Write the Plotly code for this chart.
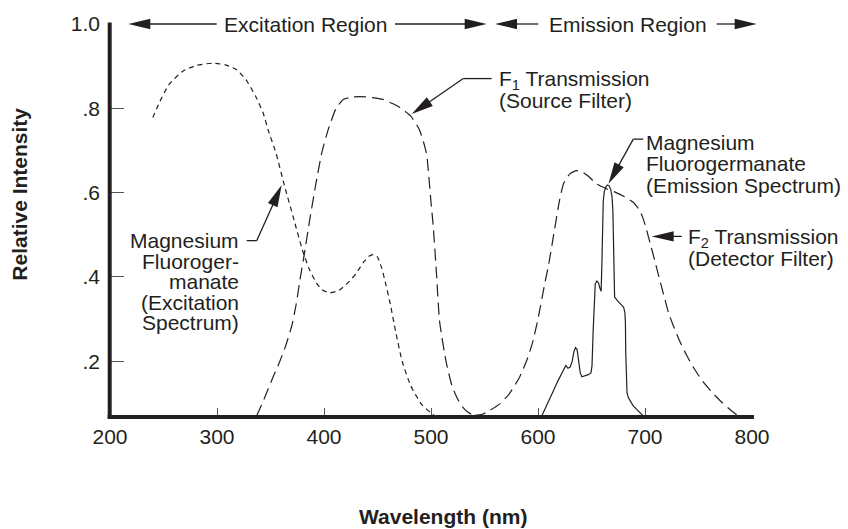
import math
import plotly.graph_objects as go

# ---------------- data ----------------
# Magnesium fluorogermanate excitation spectrum (short dashes)
ex_wl = [240, 246, 255, 268, 281, 296, 308, 318, 327, 336, 343, 348, 355, 363, 372,
         380, 386, 393, 398, 405, 414, 422, 430, 437, 442, 446, 450, 454, 458, 462,
         467, 473, 481, 491, 500, 505]
ex_int = [0.778, 0.813, 0.856, 0.888, 0.902, 0.907, 0.903, 0.892, 0.868, 0.829, 0.790,
          0.747, 0.695, 0.617, 0.535, 0.462, 0.420, 0.385, 0.370, 0.362, 0.368, 0.385,
          0.408, 0.435, 0.449, 0.453, 0.447, 0.420, 0.380, 0.335, 0.270, 0.200, 0.142,
          0.098, 0.077, 0.068]

# F1 transmission (source filter, long dashes)
f1_wl = [337, 344, 352, 358, 364, 370, 374, 378, 382, 386, 392, 398, 404, 411, 418,
         427, 439, 455, 465, 471, 481, 489, 493, 496, 498, 500, 502, 505, 508, 514,
         520, 526, 530, 535, 540]
f1_int = [0.070, 0.110, 0.160, 0.195, 0.235, 0.285, 0.335, 0.400, 0.460, 0.525, 0.615,
          0.695, 0.750, 0.798, 0.821, 0.827, 0.827, 0.821, 0.810, 0.802, 0.782, 0.750,
          0.720, 0.690, 0.637, 0.577, 0.523, 0.413, 0.295, 0.200, 0.138, 0.105, 0.090,
          0.078, 0.071]

# F2 transmission (detector filter, long dashes)
f2_wl = [540, 548, 555, 564, 573, 583, 590, 595, 600, 606, 610, 614, 620, 624, 630,
         636, 642, 648, 655, 665, 673, 681, 689, 695, 698, 701, 705, 709, 713, 717,
         722, 726, 732, 738.5, 746, 754, 763, 772, 780, 787]
f2_int = [0.071, 0.074, 0.083, 0.098, 0.122, 0.163, 0.205, 0.245, 0.300, 0.380, 0.430,
          0.490, 0.580, 0.622, 0.645, 0.652, 0.648, 0.637, 0.620, 0.608, 0.600, 0.590,
          0.577, 0.558, 0.540, 0.516, 0.478, 0.440, 0.400, 0.362, 0.315, 0.287, 0.250,
          0.216, 0.182, 0.152, 0.125, 0.102, 0.084, 0.070]

# Magnesium fluorogermanate emission spectrum (solid)
em_wl = [603, 607, 611, 615, 619, 623, 626, 628, 630, 632, 633.5, 635, 636.5, 638,
         639.5, 641, 644, 647, 649.5, 650.5, 651.5, 652.5, 653.5, 655, 656.5, 658, 659,
         659.7, 660.3, 661, 662, 663.5, 665, 666.5, 668, 669.2, 670, 670.6, 671.1,
         671.6, 674, 677, 680, 681.2, 681.7, 682, 682.4, 683.2, 684.5, 686.5, 689, 692,
         695.5, 699.5]
em_int = [0.067, 0.090, 0.113, 0.135, 0.155, 0.175, 0.190, 0.183, 0.186, 0.200, 0.222,
          0.232, 0.228, 0.200, 0.172, 0.163, 0.165, 0.168, 0.172, 0.190, 0.270, 0.350,
          0.383, 0.390, 0.386, 0.372, 0.366, 0.430, 0.520, 0.580, 0.603, 0.614, 0.618,
          0.616, 0.607, 0.590, 0.555, 0.460, 0.380, 0.352, 0.344, 0.337, 0.328, 0.316,
          0.290, 0.220, 0.150, 0.125, 0.113, 0.103, 0.094, 0.086, 0.077, 0.067]

x_tickvals = [200, 300, 400, 500, 600, 700, 800]
x_ticktext = ["200", "300", "400", "500", "600", "700", "800"]
y_tickvals = [0.2, 0.4, 0.6, 0.8, 1.0]
y_ticktext = [".2", ".4", ".6", ".8", "1.0"]

# ---------------- layout helpers ----------------
W, H = 848, 529
ML, MR, MT, MB = 110, 96, 21, 112
PW, PH = W - ML - MR, H - MT - MB
INK = "#231f20"
FONT = "Liberation Sans, Arial, Helvetica, sans-serif"
FS = 21


def px(x):
    return (x - ML) / PW


def py(y):
    return (H - MB - y) / PH


shapes = []
annotations = []


def seg(x0, y0, x1, y1, w=1.3):
    shapes.append(dict(type="line", xref="paper", yref="paper",
                       x0=px(x0), y0=py(y0), x1=px(x1), y1=py(y1),
                       line=dict(color=INK, width=w)))


def arrow(tail, tip, hl=22, hw=10.5, w=1.3):
    (tx, ty), (hx, hy) = tail, tip
    d = math.hypot(hx - tx, hy - ty)
    ux, uy = (hx - tx) / d, (hy - ty) / d
    bx, by = hx - ux * hl, hy - uy * hl
    nx, ny = -uy, ux
    seg(tx, ty, bx + ux * 2, by + uy * 2, w)
    p1 = (bx + nx * hw / 2, by + ny * hw / 2)
    p2 = (bx - nx * hw / 2, by - ny * hw / 2)
    path = "M{},{} L{},{} L{},{} Z".format(px(hx), py(hy), px(p1[0]), py(p1[1]),
                                           px(p2[0]), py(p2[1]))
    shapes.append(dict(type="path", xref="paper", yref="paper", path=path,
                       fillcolor=INK, line=dict(width=0)))


def label(text, x, y, xanchor="left", size=FS, angle=0):
    annotations.append(dict(text=text, xref="paper", yref="paper", x=px(x), y=py(y),
                            xanchor=xanchor, yanchor="middle", showarrow=False,
                            textangle=angle, borderpad=0,
                            font=dict(size=size, color=INK, family=FONT)))


# axis lines
shapes.append(dict(type="line", xref="paper", yref="paper", x0=px(109.7), x1=px(109.7),
                   y0=py(419), y1=py(19.5), line=dict(color=INK, width=4)))
shapes.append(dict(type="line", xref="paper", yref="paper", x0=px(107.7), x1=px(754),
                   y0=py(417), y1=py(417), line=dict(color=INK, width=4)))

# region arrows along the top
arrow((216.7, 21), (128.3, 21))
label("Excitation Region", 305, 21, "center")
arrow((395, 21), (486.7, 21))
arrow((538.3, 21), (495, 21))
label("Emission Region", 627.5, 21, "center")
arrow((716.7, 21), (756.7, 21))

# F1 label
seg(491.7, 76, 463.3, 76)
arrow((463.3, 76), (411.7, 111.7))
label("F<sub>1</sub> Transmission", 498, 77.5)
label("(Source Filter)", 498, 98.3)

# excitation label
seg(246.7, 239.3, 256.7, 239.3)
arrow((256.7, 239.3), (281.7, 183.3))
for t, yy in [("Magnesium", 239.5), ("Fluoroger-", 260), ("manate", 280.5),
              ("(Excitation", 301.5), ("Spectrum)", 321.7)]:
    label(t, 240, yy, "right")

# emission label
seg(643.3, 137, 633.3, 137)
arrow((633.3, 137), (608.5, 182))
for t, yy in [("Magnesium", 140.5), ("Fluorogermanate", 162), ("(Emission Spectrum)", 183.5)]:
    label(t, 645, yy)

# F2 label
arrow((681.7, 235), (651.7, 235))
label("F<sub>2</sub> Transmission", 687, 236.7)
label("(Detector Filter)", 687, 257.5)

# axis titles
label("<b>Wavelength (nm)</b>", 442.5, 517.5, "center")
label("<b>Relative Intensity</b>", 20, 193, "center", angle=-90)

# ---------------- figure ----------------
fig = go.Figure()
fig.add_trace(go.Scatter(x=ex_wl, y=ex_int, mode="lines", hoverinfo="skip",
                         line=dict(color=INK, width=1.2, dash="5px,4px",
                                   shape="spline", smoothing=0.5)))
fig.add_trace(go.Scatter(x=f1_wl, y=f1_int, mode="lines", hoverinfo="skip",
                         line=dict(color=INK, width=1.2, dash="12px,6px",
                                   shape="spline", smoothing=0.5)))
fig.add_trace(go.Scatter(x=f2_wl, y=f2_int, mode="lines", hoverinfo="skip",
                         line=dict(color=INK, width=1.2, dash="12px,6px",
                                   shape="spline", smoothing=0.5)))
fig.add_trace(go.Scatter(x=em_wl, y=em_int, mode="lines", hoverinfo="skip",
                         line=dict(color=INK, width=1.2)))

fig.update_layout(
    width=W, height=H,
    margin=dict(l=ML, r=MR, t=MT, b=MB, pad=0),
    paper_bgcolor="white", plot_bgcolor="white",
    showlegend=False,
    font=dict(family=FONT, size=FS, color=INK),
    shapes=shapes, annotations=annotations,
    xaxis=dict(range=[200, 800], showgrid=False, zeroline=False, showline=False,
               ticks="inside", ticklen=9, tickwidth=1.3, tickcolor="#555",
               tickvals=x_tickvals, ticktext=x_ticktext, ticklabelstandoff=5,
               tickfont=dict(size=FS, color=INK, family=FONT), fixedrange=True),
    yaxis=dict(range=[0.0675, 1.0], showgrid=False, zeroline=False, showline=False,
               ticks="inside", ticklen=14, tickwidth=1.3, tickcolor="#555",
               tickvals=y_tickvals, ticktext=y_ticktext, ticklabelstandoff=9,
               tickfont=dict(size=FS, color=INK, family=FONT), fixedrange=True),
)

fig.write_html("out.html", config=dict(displayModeBar=False))
